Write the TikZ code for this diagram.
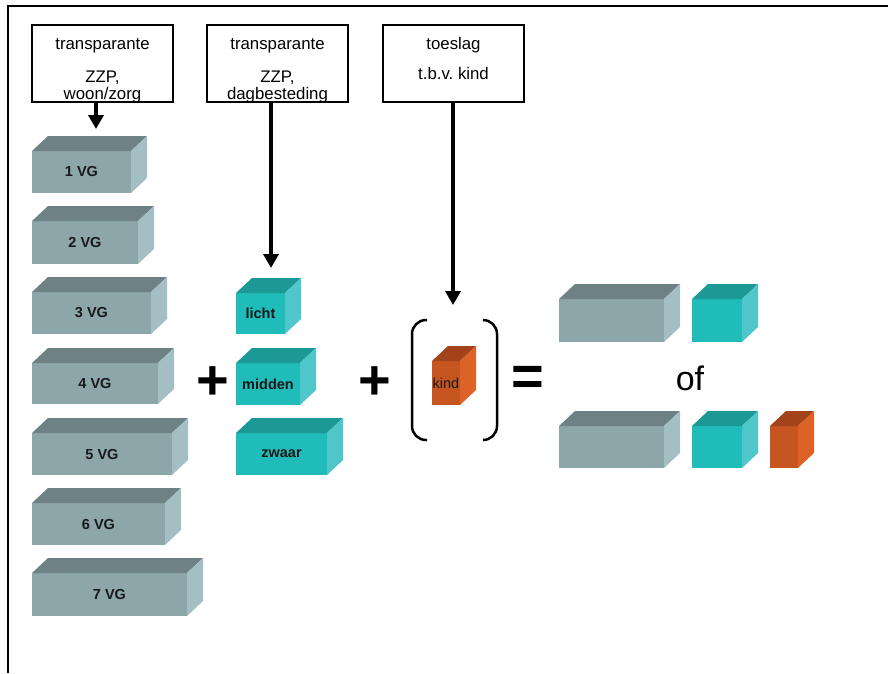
\documentclass[tikz,border=0pt]{standalone}
\usepackage{fontspec}
\setmainfont{Liberation Sans}
\usetikzlibrary{arrows.meta}
\frenchspacing
\definecolor{grF}{HTML}{8CA6A9}
\definecolor{grT}{HTML}{6E8285}
\definecolor{grS}{HTML}{A3BFC3}
\definecolor{tqF}{HTML}{20BCB9}
\definecolor{tqT}{HTML}{1C9997}
\definecolor{tqS}{HTML}{4FC7CA}
\definecolor{orF}{HTML}{C6551F}
\definecolor{orT}{HTML}{A3431C}
\definecolor{orS}{HTML}{DD6227}
\tikzset{
  frameline/.style={line width=2pt, black},
  boxframe/.style={draw, line width=2pt, minimum width=141pt, minimum height=77pt, anchor=north west, inner sep=0pt, outer sep=0pt},
  boxtxt/.style={font=\fontsize{16.8}{17}\selectfont, align=center, anchor=north, inner sep=0pt},
  arr/.style={line width=3.5pt, -{Triangle[width=15pt,length=14pt]}},
  face/.style={inner sep=0pt, outer sep=0pt, anchor=north west},
  lbl/.style={font=\bfseries\fontsize{14.5}{15}\selectfont, inner sep=0pt, text=black!90},
  op/.style={font=\bfseries\fontsize{56}{56}\selectfont, inner sep=0pt},
  paren/.style={line width=2.5pt, rounded corners=14pt}
}
\newcommand{\blok}[7]{%
  \node[face, fill=#6F, minimum width=#4pt, minimum height=#5pt, label={[lbl]center:#7}] (#1) at (#2,#3) {};
  \fill[#6T] (#1.north west) -- ++(16,-15) -- ([shift={(16,-15)}]#1.north east) -- (#1.north east) -- cycle;
  \fill[#6S] (#1.north east) -- ++(16,-15) -- ([shift={(16,-15)}]#1.south east) -- (#1.south east) -- cycle;
}
\begin{document}
\begin{tikzpicture}[x=1pt,y=-1pt]
\useasboundingbox (0,0) rectangle (888,673);
% outer frame
\draw[frameline] (8,673) -- (8,6) -- (888,6);
% top boxes
\node[boxframe] (b1) at (32,25) {};
\node[boxtxt] (b1t) at ([yshift=-13pt]b1.north) {transparante\\[16pt]ZZP,\\woon/zorg};
\node[boxframe] (b2) at (207,25) {};
\node[boxtxt] (b2t) at ([yshift=-13pt]b2.north) {transparante\\[16pt]ZZP,\\dagbesteding};
\node[boxframe] (b3) at (383,25) {};
\node[boxtxt] (b3t) at ([yshift=-12pt]b3.north) {toeslag\\[13pt]t.b.v. kind};
% VG blocks
\blok{v1}{32}{151}{99}{42}{gr}{1 VG}
\blok{v2}{32}{221}{106}{43}{gr}{2 VG}
\blok{v3}{32}{292}{119}{42}{gr}{3 VG}
\blok{v4}{32}{363}{126}{41}{gr}{4 VG}
\blok{v5}{32}{433}{140}{42}{gr}{5 VG}
\blok{v6}{32}{503}{133}{42}{gr}{6 VG}
\blok{v7}{32}{573}{155}{43}{gr}{7 VG}
% day care blocks
\blok{licht}{236}{293}{49}{41}{tq}{licht}
\blok{midden}{236}{363}{64}{42}{tq}{midden}
\blok{zwaar}{236}{433}{91}{42}{tq}{zwaar}
% child block
\blok{kind}{432}{361}{28}{44}{or}{\mdseries kind}
% results
\blok{r1g}{559}{299}{105}{43}{gr}{}
\blok{r1t}{692}{299}{50}{43}{tq}{}
\blok{r2g}{559}{426}{105}{42}{gr}{}
\blok{r2t}{692}{426}{50}{42}{tq}{}
\blok{r2o}{770}{426}{28}{42}{or}{}
% operators
\node[op] (p1) at (213,383) {+};
\node[op] (p2) at (375,383) {+};
\node[op] (eq) at (528,381) {=};
\node[font=\fontsize{34}{34}\selectfont, anchor=base, inner sep=0pt] (of) at (690,390) {of};
% brackets
\draw[paren] (427,320) -- (412,320) -- (412,440) -- (427,440);
\draw[paren] (483,320) -- (497,320) -- (497,440) -- (483,440);
% arrows
\coordinate (t1) at (96,129);
\coordinate (t2) at (271,268);
\coordinate (t3) at (453,305);
\draw[arr] (b1.south -| t1) -- (t1);
\draw[arr] (b2.south -| t2) -- (t2);
\draw[arr] (b3.south -| t3) -- (t3);
\end{tikzpicture}
\end{document}
